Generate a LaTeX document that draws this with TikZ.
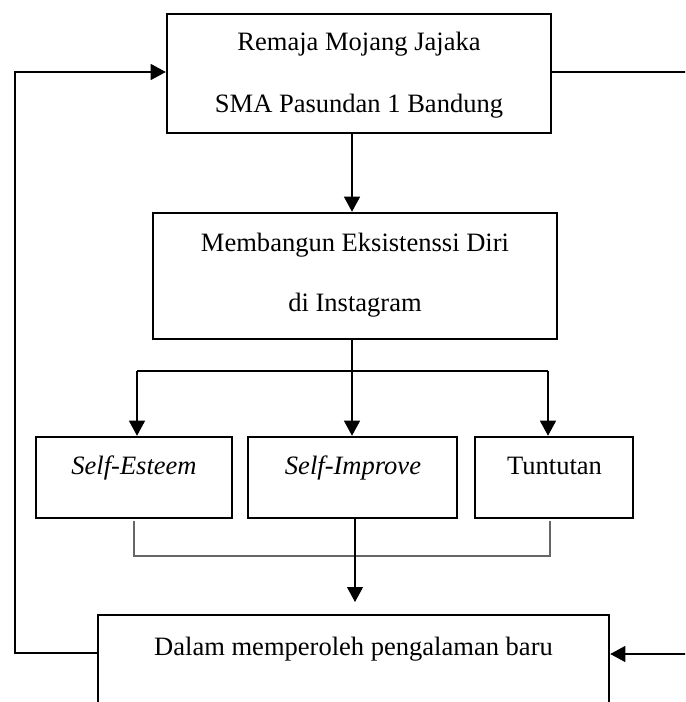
\documentclass[tikz,border=0pt]{standalone}
\usepackage{fontspec}
\setmainfont{Liberation Serif}
\usetikzlibrary{arrows.meta}
\tikzset{
  boxnode/.style={draw=black, line width=1.9pt, rectangle, inner sep=0pt, fill=none},
  txt/.style={anchor=base, inner sep=0pt, font=\fontsize{19.9pt}{24pt}\selectfont},
  conn/.style={draw=black, line width=0.8pt},
  arr/.style={conn, -{Triangle[length=11.25pt, width=12pt]}},
  brk/.style={draw=black!60, line width=0.8pt}
}
\begin{document}
\begin{tikzpicture}[x=0.75pt, y=-0.75pt]
\useasboundingbox (0,0) rectangle (685,702);
\clip (0,0) rectangle (685,702);
\fill[white] (0,0) rectangle (685,702);
% boxes
\node[boxnode, minimum width=384*0.75pt, minimum height=119*0.75pt] (top) at (359,73.5) {};
\node[boxnode, minimum width=404*0.75pt, minimum height=126*0.75pt] (mid) at (355,276) {};
\node[boxnode, minimum width=196*0.75pt, minimum height=81*0.75pt] (se) at (134,477.5) {};
\node[boxnode, minimum width=209*0.75pt, minimum height=81*0.75pt] (si) at (352.5,477.5) {};
\node[boxnode, minimum width=158*0.75pt, minimum height=81*0.75pt] (tu) at (554,477.5) {};
\node[boxnode, minimum width=511*0.75pt, minimum height=125*0.75pt] (bot) at (353.5,677.5) {};
% texts
\node[txt] (t1) at (359,50.5) {Remaja Mojang Jajaka};
\node[txt] (t2) at (359,113) {SMA Pasundan 1 Bandung};
\node[txt] (m1) at (355,251) {Membangun Eksistenssi Diri};
\node[txt] (m2) at (355,311) {di Instagram};
\node[txt] (set) at (134,474) {\textit{Self-Esteem}};
\node[txt] (sit) at (353,474) {\textit{Self-Improve}};
\node[txt] (tut) at (554.5,474) {Tuntutan};
\node[txt] (bt) at (353.5,655) {Dalam memperoleh pengalaman baru};
% coordinates
\coordinate (c1) at (352,0);
\coordinate (br) at (352,371);
\coordinate (brl) at (137,371);
\coordinate (brr) at (548,371);
\coordinate (bkl) at (134,521);
\coordinate (bkl2) at (134,556);
\coordinate (bkr) at (550,521);
\coordinate (bkr2) at (550,556);
\coordinate (tip) at (355,602);
\coordinate (lb) at (15,653);
\coordinate (ltop) at (15,72);
\coordinate (rt) at (700,72);
\coordinate (rb) at (700,654);
% connectors
\draw[arr] (top.south -| c1) -- (mid.north -| c1);
\draw[conn] (mid.south -| c1) -- (br);
\draw[conn] (brl) -- (brr);
\draw[arr] (brl) -- (se.north -| brl);
\draw[arr] (br) -- (si.north -| br);
\draw[arr] (brr) -- (tu.north -| brr);
\draw[brk] (bkl) -- (bkl2) -- (bkr2) -- (bkr);
\draw[arr] (si.south -| tip) -- (tip);
\draw[arr] (bot.west |- lb) -- (lb) -- (ltop) -- (top.west |- ltop);
\draw[arr] (top.east |- rt) -- (rt) -- (rb) -- (bot.east |- rb);
\end{tikzpicture}
\end{document}
